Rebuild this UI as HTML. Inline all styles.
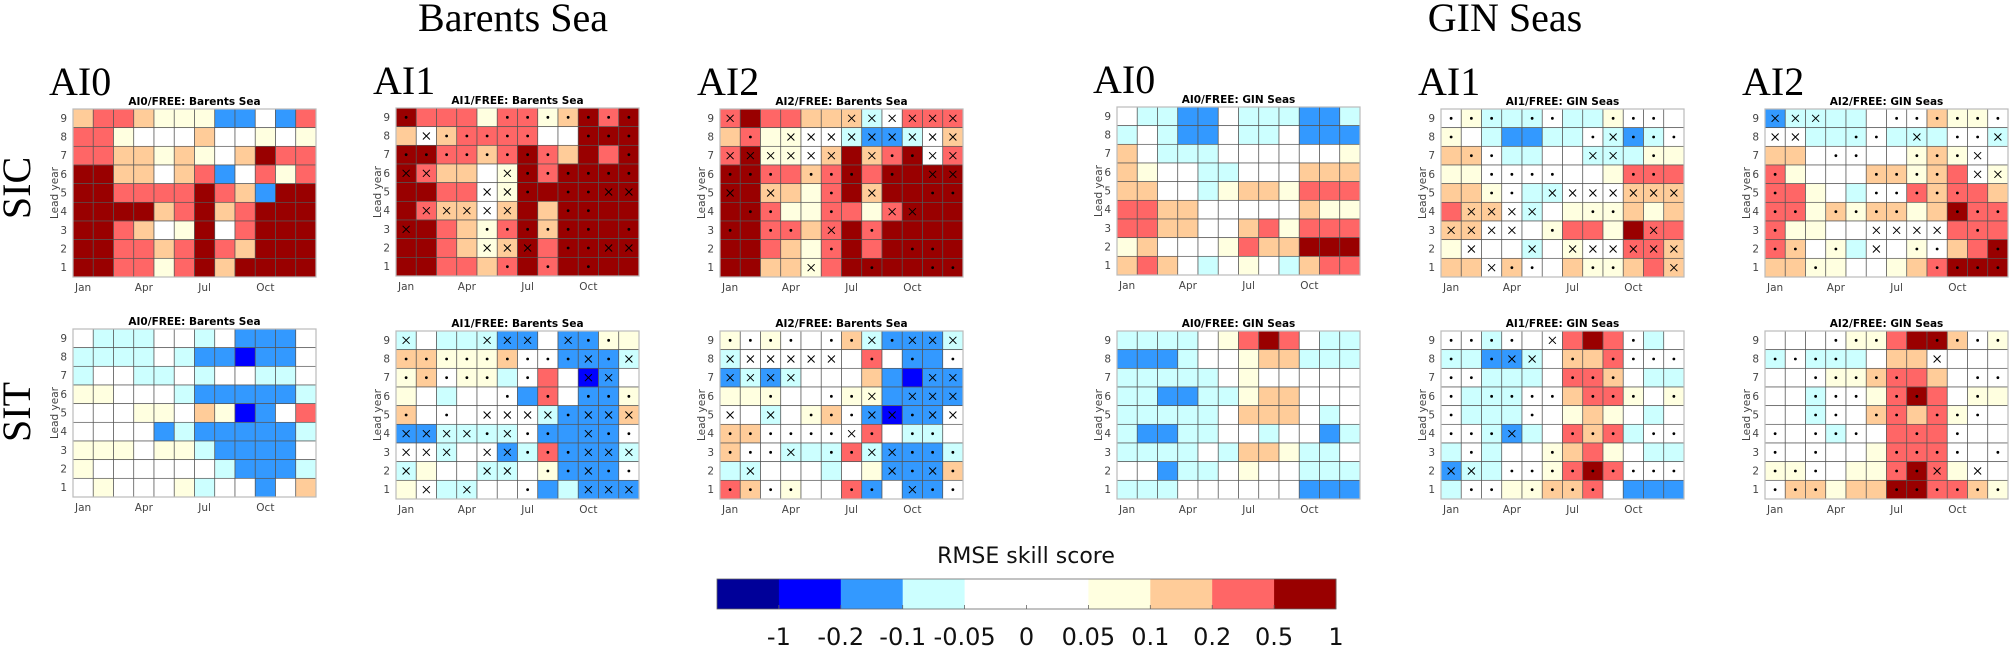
<!DOCTYPE html>
<html><head><meta charset="utf-8">
<style>
html,body{margin:0;padding:0;background:#fff;}
svg{display:block;}
.ser{font-family:"Liberation Serif",serif;fill:#000;}
.sans{font-family:"DejaVu Sans","Liberation Sans",sans-serif;}
</style></head>
<body>
<svg id="fig" width="2009" height="646" viewBox="0 0 2009 646" xmlns="http://www.w3.org/2000/svg">
<text class="ser" x="513" y="31" font-size="40" text-anchor="middle">Barents Sea</text>
<text class="ser" x="1505" y="31" font-size="40" text-anchor="middle">GIN Seas</text>
<text class="ser" font-size="40" transform="translate(30,188) rotate(-90)" text-anchor="middle">SIC</text>
<text class="ser" font-size="40" transform="translate(30,412) rotate(-90)" text-anchor="middle">SIT</text>
<g id="panels"></g>
<g id="cbar"></g>
</svg>
<script>
const classCodes = ['n','b','B','c','w','y','o','r','R'];
const classColors = ['#000099','#0000ff','#3399ff','#ccffff','#ffffff','#ffffe0','#ffcc99','#ff6666','#990000'];
const cbarColors = ['#000099','#0000ff','#3399ff','#ccffff','#ffffff','#ffffff','#ffffe0','#ffcc99','#ff6666','#990000'];
const cbarLabels = ['-1','-0.2','-0.1','-0.05','0','0.05','0.1','0.2','0.5','1'];
const months = ['Jan','Apr','Jul','Oct'];
const leadYears = [1,2,3,4,5,6,7,8,9];

const barentsAI0SIC = [
"o r r o y y y B B w B r","r r y w w w o w w y w y","r r o o y o y w o R r r",
"R R o o w o r B w r y r","R R r r r r R r o B R R","R R R R o r R o r R R R",
"R R r o w y R w r R R R","R R r r o r R r o R R R","R R r r y r R o R R R R"];
const barentsAI1SIC = [
"R. r r r y r. r. y. o. R. r. R.","o wx o. r. r. r. r. w w R. R. R.","R. R. r. r. o. r. R. r. o R r R.",
"Rx rx o o w yx R. r. R. R. R. R.","R R r r wx yx R. R R. R. Rx Rx","R rx ox ox wx ox R o R. R. R R",
"Rx R r o y. r. R. o. R. R. R R.","R R r o yx ox Rx r R. R. Rx Rx","R R r r o r. R r. R R. R R"];
const barentsAI2SIC = [
"rx R r r o o ox cx wx rx rx rx","o r. y yx wx wx cx Bx Bx cx wx ox","rx Rx yx yx wx ox R ox r. R. wx rx",
"R. R. r. r o. r. R. r R. R Rx Rx","Rx R ox o y r. R ox R R R. R.","R R. r. y y r. r y rx Rx R R",
"R. R r. r. o rx R r. R R R R","R R r o y r. R r R R. R. R","R R o o yx r R R. R R R. R."];
const ginAI0SIC = [
"w c c B B w c c c B B c","c w c B B w c c w B B B","o w c c c w w w w w w y",
"o y w w c c w w w o o o","o o w w c y o o y r r r","r r o o w w w w w o y y",
"r r o o w w o r y r r r","y o w w w y r o o R R R","o r o w c w y w c o r r"];
const ginAI1SIC = [
"w. y. c. c c. w. c c y. w. w. w","y. w c B B c c w. cx B. c. w.","o o. w. c c w w cx cx c y. y",
"y y w. w. w. w. w w y r. r. r","o o y. w. c cx wx wx wx ox ox ox","r ox ox wx cx w y y. y. o y o",
"ox ox wx wx w y. r r y R rx r","y wx w w cx w yx wx wx rx rx ox","o o wx o. w. w o y. y. o r ox"];
const ginAI2SIC = [
"Bx cx cx c c w w. w. o. y. y. w.","wx wx c c c. w. c cx c w. w. cx","o o w w. w. w w y. o. y. wx w",
"r. y w w w o. o. y. o. r wx yx","r. r y w c w. w. r. o. r. r o","r. r. y o. y. o. o. y o R. r. r.",
"r. y y w w wx wx wx wx r r. r","r. o. w y. c wx w y. w. o r R.","o o y. y w w y o r. R. R. R."];
const barentsAI0SIT = [
"w c c c w w c w B B B w","c c c c w c B B b B B w","c w w c c w c w w c c w",
"y y w w w c B B B B B c","w w w y y w o y b B w r","w w w w B c B B B B B c",
"y y y w y y c B B B B w","y w w w w w w c B B B c","w y w w w y c w w B w o"];
const barentsAI1SIT = [
"cx w c c cx Bx Bx w Bx B. y. y","o. o. y. y. y. o. w. w. B. Bx B. cx","y. o. w. y. y. c w. r w bx Bx w",
"y w c w w w. B r. w B. B. y.","o. w w. w wx wx wx cx B. Bx Bx ox","Bx Bx cx cx c. cx w. B. B Bx B. w.",
"wx wx cx w wx Bx c. r. B. Bx Bx cx","cx y w w cx cx w y. B. Bx B. w.","y wx c cx w w w. B c Bx Bx Bx"];
const barentsAI2SIT = [
"y. w. y. w. w w. o. cx B. Bx Bx cx","cx wx wx wx wx wx w r. w B. B w.","Bx cx Bx cx w w w o B b Bx Bx",
"y y y. w w w. y. yx B Bx Bx Bx","wx w cx w y. o. w. Bx bx B. Bx wx","o. o. w. w. w. w. wx r. w c. c. w",
"o. w. w. cx c c. r. cx Bx B. B. c.","c cx w w w c w y Bx B. Bx o.","r. o. w. y. w w r. B. w Bx B. w."];
const ginAI0SIT = [
"c c c c w y r R r w c c","B B B c w w y o o c c c","c c c c c w y w w w w w",
"c c B B c c y o o w w w","c c c c c w o o o w c w","c B B c c w w c w w B c",
"c c c c w c o o y c c w","w w B c c w y w w c c c","c c c w w w w w w B B B"];
const ginAI1SIT = [
"w. w. c. w. w wx r R r w. c w","c. c B. Bx cx w o. o r. w. w. w.","w. w. c c c w r. r. o. w c c",
"w. c c. c. w. w. o r. r. y. w y.","w. c c c w. w y o y w c w","w. w. c. Bx c w r. o. r. c w. w.",
"c w. c w w y. o r y w c c","Bx cx c w. w. y. r. R. r. w. w. w.","c w. w. y y. o. o. r. w B B B"];
const ginAI2SIT = [
"w w w w. y. y. r R R. o. w. y.","c. w. c. c. c w o o wx w w w","w w w. y. y. o. r. r o w w. w.",
"w w c. w. w. y r. R. r w y. y","w w c. w. w o. r. o r. y. w. w","w. w w. c. w. w r r. r w. w w",
"w. w w. w w y r. r. r. w. w w.","y. y. w. w y y r. R. rx y wx w","w. o. o. y o o R. R. r. r. o. y."];

const W = 243, H = 168;
const panels = [
 {id:'barents-ai0-sic', x:73,  y:109, rows:barentsAI0SIC, title:'AI0/FREE: Barents Sea', tag:'AI0', tx:49},
 {id:'barents-ai1-sic', x:396, y:108, rows:barentsAI1SIC, title:'AI1/FREE: Barents Sea', tag:'AI1', tx:373},
 {id:'barents-ai2-sic', x:720, y:109, rows:barentsAI2SIC, title:'AI2/FREE: Barents Sea', tag:'AI2', tx:697},
 {id:'gin-ai0-sic', x:1117, y:107, rows:ginAI0SIC, title:'AI0/FREE: GIN Seas', tag:'AI0', tx:1093},
 {id:'gin-ai1-sic', x:1441, y:109, rows:ginAI1SIC, title:'AI1/FREE: GIN Seas', tag:'AI1', tx:1418},
 {id:'gin-ai2-sic', x:1765, y:109, rows:ginAI2SIC, title:'AI2/FREE: GIN Seas', tag:'AI2', tx:1742},
 {id:'barents-ai0-sit', x:73,  y:329, rows:barentsAI0SIT, title:'AI0/FREE: Barents Sea'},
 {id:'barents-ai1-sit', x:396, y:331, rows:barentsAI1SIT, title:'AI1/FREE: Barents Sea'},
 {id:'barents-ai2-sit', x:720, y:331, rows:barentsAI2SIT, title:'AI2/FREE: Barents Sea'},
 {id:'gin-ai0-sit', x:1117, y:331, rows:ginAI0SIT, title:'AI0/FREE: GIN Seas'},
 {id:'gin-ai1-sit', x:1441, y:331, rows:ginAI1SIT, title:'AI1/FREE: GIN Seas'},
 {id:'gin-ai2-sit', x:1765, y:331, rows:ginAI2SIT, title:'AI2/FREE: GIN Seas'}
];
const NS = 'http://www.w3.org/2000/svg';
function mk(tag, attrs, parent, txt){
  const e = document.createElementNS(NS, tag);
  for (const k in attrs) e.setAttribute(k, attrs[k]);
  if (txt !== undefined) e.textContent = txt;
  parent.appendChild(e);
  return e;
}
const root = document.getElementById('panels');
panels.forEach(p => {
  const g = mk('g', {}, root);
  
  
  const cw = W/12, ch = H/9;
  const xs = c => p.x + c*cw;
  const ys = lead => p.y + (9-lead)*ch;
  if (p.tag){
    const t = mk('text', {x:p.tx, y:p.y-14, 'font-size':40, class:'ser'}, g, p.tag);
    
    
  }
  const ti = mk('text', {x:p.x+W/2, y:p.y-4, 'font-size':10.5, 'font-weight':'bold', 'text-anchor':'middle', class:'sans'}, g, p.title);
  
  
  p.rows.forEach((row, ri) => {
    const lead = 9 - ri;
    row.trim().split(/\s+/).forEach((tok, c) => {
      const col = classColors[classCodes.indexOf(tok[0])];
      const r = mk('rect', {x:xs(c), y:ys(lead), width:cw, height:ch, fill:col, stroke:'#555', 'stroke-width':0.7}, g);
      
      
      const cx = xs(c)+cw/2, cy = ys(lead)+ch/2;
      if (tok[1] === '.'){
        const d = mk('circle', {cx:cx, cy:cy, r:1.4, fill:'#000'}, g);
        
        
      } else if (tok[1] === 'x'){
        const m = mk('path', {d:`M${cx-3.5} ${cy-3.5}L${cx+3.5} ${cy+3.5}M${cx+3.5} ${cy-3.5}L${cx-3.5} ${cy+3.5}`, stroke:'#000', 'stroke-width':1}, g);
        
        
      }
    });
  });
  const box = mk('rect', {x:p.x, y:p.y, width:W, height:H, fill:'none', stroke:'#bbb', 'stroke-width':1.2}, g);
  
  
  leadYears.forEach(l => {
    const t = mk('text', {x:p.x-6, y:ys(l)+ch/2+3.5, 'font-size':10.5, fill:'#444', 'text-anchor':'end', class:'sans'}, g, String(l));
    
    
  });
  const yl = mk('text', {'font-size':10.5, fill:'#444', 'text-anchor':'middle', class:'sans', transform:`translate(${p.x-15},${p.y+H/2}) rotate(-90)`}, g, 'Lead year');
  
  
  months.forEach((m, i) => {
    const t = mk('text', {x:xs(i*3)+cw/2, y:p.y+H+14, 'font-size':10.5, fill:'#444', 'text-anchor':'middle', class:'sans'}, g, m);
    
    
  });
});
const cb = document.getElementById('cbar');
const cbX = 717, cbY = 579, cbW = 619, cbH = 30, sw = cbW/10;
const ct = mk('text', {x:1026, y:563, 'font-size':22, 'text-anchor':'middle', fill:'#111', class:'sans'}, cb, 'RMSE skill score');


cbarColors.forEach((c, i) => {
  const r = mk('rect', {x:cbX+i*sw, y:cbY, width:sw+0.5, height:cbH, fill:c}, cb);
  
  
});
const cbo = mk('rect', {x:cbX, y:cbY, width:cbW, height:cbH, fill:'none', stroke:'#666', 'stroke-width':0.8}, cb);


cbarLabels.forEach((l, i) => {
  const x = cbX + (i+1)*sw;
  const tk = mk('line', {x1:x, x2:x, y1:cbY+cbH, y2:cbY+cbH-4, stroke:'#666', 'stroke-width':0.8}, cb);
  
  
  const t = mk('text', {x:x, y:645, 'font-size':24, 'text-anchor':'middle', fill:'#111', class:'sans'}, cb, l);
  
  
});
</script>
</body></html>
